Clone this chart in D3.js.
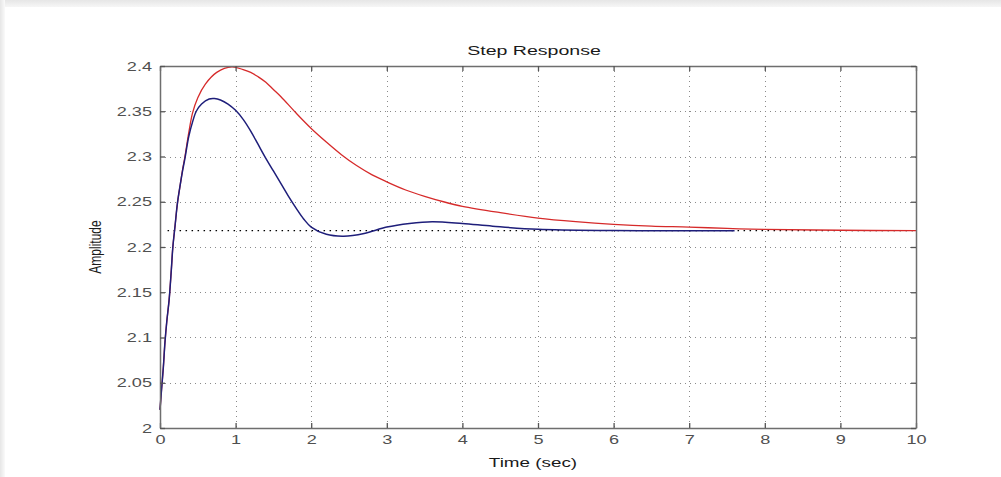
<!DOCTYPE html>
<html><head><meta charset="utf-8">
<script src="https://cdn.jsdelivr.net/npm/d3@7"></script>
<style>body{margin:0;background:#fff}svg{display:block}</style>
</head><body>
<svg id="c" width="1001" height="477"></svg>
<script>
const xTicks = [0,1,2,3,4,5,6,7,8,9,10];
const yTicks = [2,2.05,2.1,2.15,2.2,2.25,2.3,2.35,2.4];
const yTickLabels = ["2","2.05","2.1","2.15","2.2","2.25","2.3","2.35","2.4"];
const steadyState = 2.218;
const redT = [0,0.02,0.045,0.065,0.09,0.12,0.15,0.17,0.2,0.23,0.27,0.3,0.33,0.38,0.43,0.5,0.6,0.75,0.95,1.1,1.2,1.3,1.4,1.5,1.6,1.8,2.0,2.2,2.4,2.6,2.8,3.0,3.25,3.5,3.75,4.0,4.5,5.0,5.5,6.0,6.5,7.0,7.5,8.0,9.0,10.0];
const redV = [2.02,2.042,2.068,2.094,2.118,2.141,2.175,2.2,2.224,2.248,2.27,2.286,2.30,2.326,2.348,2.365,2.380,2.393,2.399,2.396,2.393,2.388,2.382,2.374,2.366,2.348,2.331,2.316,2.302,2.290,2.280,2.272,2.263,2.256,2.250,2.245,2.238,2.232,2.228,2.225,2.223,2.222,2.2205,2.2195,2.2185,2.218];
const blueT = [0,0.02,0.045,0.065,0.09,0.12,0.15,0.17,0.2,0.23,0.27,0.3,0.33,0.38,0.43,0.48,0.55,0.65,0.72,0.8,0.9,1.0,1.1,1.2,1.3,1.4,1.5,1.6,1.7,1.8,1.9,2.0,2.2,2.43,2.7,3.0,3.3,3.6,4.0,4.4,5.0,6.0,7.0,7.6];
const blueV = [2.02,2.042,2.068,2.094,2.118,2.141,2.175,2.2,2.224,2.248,2.27,2.285,2.298,2.322,2.338,2.35,2.358,2.3635,2.364,2.3625,2.358,2.351,2.341,2.328,2.313,2.298,2.284,2.270,2.256,2.243,2.231,2.222,2.214,2.212,2.215,2.222,2.226,2.228,2.226,2.223,2.2195,2.2182,2.218,2.218];

const svg = d3.select("#c");
const defs = svg.append("defs");
const g1 = defs.append("linearGradient").attr("id","gt").attr("x1",0).attr("y1",0).attr("x2",0).attr("y2",1);
g1.append("stop").attr("offset","0").attr("stop-color","#e6e6e6");
g1.append("stop").attr("offset","1").attr("stop-color","#f6f6f6");
const g2 = defs.append("linearGradient").attr("id","gl").attr("x1",0).attr("y1",0).attr("x2",1).attr("y2",0);
g2.append("stop").attr("offset","0").attr("stop-color","#e6e6e6");
g2.append("stop").attr("offset","1").attr("stop-color","#fafafa");
svg.append("rect").attr("x",0).attr("y",0).attr("width",1001).attr("height",7).attr("fill","url(#gt)");
svg.append("rect").attr("x",0).attr("y",0).attr("width",5).attr("height",477).attr("fill","url(#gl)");

const L=160, R=916, T=66, B=428;
const SX = 1.45; // horizontal stretch of the glyphs in the reference
const x = d3.scaleLinear().domain([0,10]).range([L,R]);
const y = d3.scaleLinear().domain([2,2.4]).range([B,T]);

const grid = svg.append("g").attr("stroke","#8a8a8a").attr("stroke-width",1).attr("stroke-dasharray","1,4");
grid.selectAll("line.v").data(xTicks.slice(1,-1)).join("line")
  .attr("x1",d=>Math.round(x(d))+0.5).attr("x2",d=>Math.round(x(d))+0.5).attr("y1",T).attr("y2",B);
grid.selectAll("line.h").data(yTicks.slice(1,-1)).join("line")
  .attr("y1",d=>Math.round(y(d))+0.5).attr("y2",d=>Math.round(y(d))+0.5).attr("x1",L).attr("x2",R);

svg.append("line").attr("x1",x(0.1)).attr("x2",x(10)).attr("y1",y(steadyState)).attr("y2",y(steadyState))
  .attr("stroke","#000").attr("stroke-width",1.3).attr("stroke-dasharray","1.5,4.5");

const line = d3.line().x(d=>x(d[0])).y(d=>y(d[1])).curve(d3.curveCatmullRom.alpha(0.5));
svg.append("path").datum(redT.map((t,i)=>[t,redV[i]])).attr("d",line)
  .attr("fill","none").attr("stroke","#d62a2a").attr("stroke-width",1.3);
svg.append("path").datum(blueT.map((t,i)=>[t,blueV[i]])).attr("d",line)
  .attr("fill","none").attr("stroke","#1e1e7a").attr("stroke-width",1.5);

const fnt = "Liberation Sans, Arial, sans-serif";
const ax = svg.append("g").attr("transform",`translate(0,${B})`)
  .call(d3.axisBottom(x).tickValues(xTicks).tickSize(-5).tickPadding(7).tickSizeOuter(0));
const axTop = svg.append("g").attr("transform",`translate(0,${T})`)
  .call(d3.axisTop(x).tickValues(xTicks).tickSize(-5).tickFormat("").tickSizeOuter(0));
const ay = svg.append("g").attr("transform",`translate(${L},0)`)
  .call(d3.axisLeft(y).tickValues(yTicks).tickFormat((d,i)=>yTickLabels[i]).tickSize(-5).tickPadding(8).tickSizeOuter(0));
const ayR = svg.append("g").attr("transform",`translate(${R},0)`)
  .call(d3.axisRight(y).tickValues(yTicks).tickSize(-5).tickFormat("").tickSizeOuter(0));
[ax,axTop,ay,ayR].forEach(a=>{
  a.select(".domain").attr("stroke","#6e6e6e").attr("stroke-width",1.5);
  a.selectAll(".tick line").attr("stroke","#555").attr("stroke-width",1.3);
  a.selectAll("text").attr("font-family",fnt).attr("font-size",12.5).attr("fill","#505050")
    .each(function(){
      const t = d3.select(this);
      const xv = +t.attr("x") || 0;
      t.attr("x", xv/SX).attr("transform",`scale(${SX},1)`);
    });
});

svg.append("text").attr("transform",`translate(534,55) scale(${SX},1)`).attr("text-anchor","middle")
  .attr("font-family",fnt).attr("font-size",13.5).attr("fill","#1a1a1a").text("Step Response");
svg.append("text").attr("transform",`translate(533,467) scale(${SX},1)`).attr("text-anchor","middle")
  .attr("font-family",fnt).attr("font-size",13).attr("fill","#1a1a1a").text("Time (sec)");
svg.append("text").attr("transform",`translate(101,247) scale(${SX},1) rotate(-90)`).attr("text-anchor","middle")
  .attr("font-family",fnt).attr("font-size",12).attr("fill","#1a1a1a").text("Amplitude");
</script>
</body></html>
